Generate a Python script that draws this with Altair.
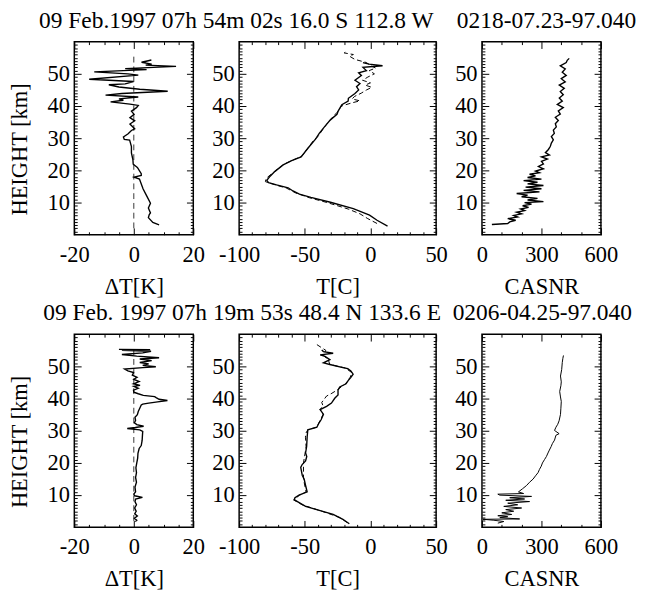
import altair as alt
import pandas as pd

FONT = "Liberation Serif"
FS = 23
FS_TITLE = 24
NBSP = "\u00a0"

TITLE_TOP = "09 Feb.1997 07h 54m 02s 16.0 S 112.8 W" + NBSP * 4 + "0218-07.23-97.040"
TITLE_BOT = "09 Feb. 1997 07h 19m 53s 48.4 N 133.6 E" + NBSP * 2 + "0206-04.25-97.040"

X_TITLES = ["\u0394T[K]", "T[C]", "CASNR"]
Y_TITLE = "HEIGHT [km]"

# ---------------- top row ----------------
DT1_H = [3.1, 3.8, 5.3, 6.3, 6.8, 8.3, 9.8, 12.3, 14.3, 17.3, 17.9, 18.4, 19.0, 20.9, 21.9,
         23.3, 25.4, 27.4, 29.4, 29.6, 30.4, 31.4, 32.4, 32.9, 34.4, 35.4, 36.4, 37.4, 38.4,
         39.5, 40.2, 40.6, 41.3, 41.8, 42.2, 42.8, 43.4, 43.9, 44.6, 45.2, 45.9, 46.6, 46.9,
         47.6, 48.3, 49.6, 50.0, 50.6, 51.3, 51.6, 52.3, 52.7, 53.0, 53.6, 54.0, 54.3]
DT1_V = [8.5, 6.4, 4.9, 5.2, 5.6, 4.9, 5.6, 4.2, 3.1, 1.9, 0.1, 2.5, 2.5, 1.2, -0.2,
         -0.3, -0.8, -0.8, -1.4, -3.2, -3.5, -1.9, -0.8, 0.3, -1.3, 0.3, -1.3, 0.1, -0.8,
         0.9, 1.5, -1.3, -7.8, -3.5, -5.0, 1.5, -9.5, -4.0, 11.4, 2.0, -5.0, -8.4, -2.9,
         -0.1, -15.0, 1.5, -2.0, -13.3, 4.3, -2.9, 14.2, 4.0, 6.0, 2.6, 4.5, 5.9]

T1_H = [2.7, 4.5, 6.1, 8.1, 10.1, 11.6, 12.6, 13.6, 14.6, 15.5, 16.2, 16.9, 18.2, 19.7, 21.7,
        23.0, 24.2, 26.8, 29.8, 31.5, 33.3, 35.7, 37.4, 38.5, 40.4, 41.5, 42.4, 43.9, 45.0,
        46.0, 47.0, 48.0, 49.5, 50.3, 51.0, 52.0, 52.5, 53.0, 53.5]
T1_V = [13.0, 5.0, -0.7, -13.1, -30.5, -45.4, -54.1, -59.0, -62.7, -71.5, -77.6, -78.9, -76.4,
        -72.7, -66.5, -60.0, -52.8, -47.8, -41.7, -39.0, -35.5, -30.5, -25.5, -24.5, -21.8,
        -17.0, -16.8, -11.8, -9.0, -10.6, -8.0, -11.8, -6.9, -9.0, -3.1, -5.7, 9.2, -1.0, -5.7]

T1D_H = [3.5, 5.0, 6.5, 8.0, 10.0, 11.5, 13.0, 14.5, 15.5, 16.5, 17.5, 19.0, 20.0, 22.0, 24.5,
         27.0, 29.5, 30.5, 33.5, 36.0, 38.0, 40.0, 41.0, 41.6, 42.2, 43.0, 44.0, 45.0, 45.8,
         46.5, 47.2, 48.0, 49.0, 50.0, 51.0, 51.8, 52.5, 53.5, 54.5, 55.5, 56.0, 56.5, 57.0]
T1D_V = [5.0, -2.0, -8.0, -17.0, -33.0, -46.5, -57.0, -64.0, -72.5, -80.0, -79.5, -75.0, -72.0,
         -65.5, -52.0, -47.5, -43.0, -40.0, -35.0, -30.0, -25.5, -22.0, -14.0, -8.0, -14.0,
         -12.0, -7.0, -3.0, 1.0, -4.0, 0.0, -6.0, -2.0, 3.0, -1.0, 4.0, 0.0, -3.0, -12.0,
         -16.0, -13.0, -20.0, -18.0]

SNR1_H = [3.2, 3.5, 4.0, 4.5, 5.0, 5.5, 6.0, 6.5, 7.0, 7.5, 8.0, 8.5, 9.0, 9.5, 10.0, 10.3,
          10.8, 11.3, 11.8, 12.3, 12.8, 13.3, 13.8, 14.3, 14.8, 15.3, 15.8, 16.3, 16.8, 17.3,
          17.8, 18.3, 18.8, 19.3, 19.8, 20.5, 21.2, 22.0, 22.8, 23.5, 24.2, 24.8, 25.5, 26.5,
          27.5, 28.5, 29.5, 30.5, 31.5, 32.5, 33.5, 34.5, 35.5, 36.5, 37.5, 38.5, 39.5, 40.5,
          41.5, 42.5, 43.5, 44.5, 45.5, 46.5, 47.5, 48.5, 49.5, 50.5, 51.5, 52.5, 53.5, 54.2,
          54.8]
SNR1_V = [50, 130, 140, 170, 130, 180, 160, 200, 175, 215, 195, 235, 205, 250, 215, 310,
          230, 280, 200, 230, 175, 290, 210, 300, 220, 310, 230, 280, 210, 300,
          230, 270, 240, 290, 270, 310, 285, 310, 300, 330, 300, 340, 320, 335,
          345, 350, 360, 350, 365, 360, 375, 370, 385, 370, 395, 385, 410, 380,
          405, 390, 410, 395, 415, 390, 420, 400, 425, 405, 420, 395, 425, 430, 440]

# ---------------- bottom row ----------------
DT2_H = [1.8, 2.2, 2.8, 3.5, 4.2, 5.0, 6.0, 7.0, 8.0, 8.8, 9.3, 9.8, 10.3, 11.0, 12.5, 14.0,
         15.5, 17.0, 18.5, 20.0, 21.5, 23.0, 24.5, 25.4, 27.0, 28.5, 29.8, 30.3, 30.7, 31.0,
         31.4, 31.9, 32.5, 33.2, 34.2, 35.0, 36.0, 37.0, 38.0, 38.3, 38.6, 39.0, 39.4, 39.8,
         40.3, 40.6, 41.0, 41.5, 42.0, 42.6, 43.2, 43.8, 44.1, 44.6, 45.3, 46.0, 46.6, 47.3,
         48.1, 48.6, 49.2, 49.6, 49.9, 50.3, 50.8, 51.2, 51.8, 52.3, 52.7, 53.2, 53.7, 54.2,
         54.7, 55.0, 55.2, 55.3]
DT2_V = [0.5, 1.0, 0.2, 1.2, 0.3, 0.8, 0.3, 0.9, 0.4, 0.6, 2.9, 0.3, 0.0, 0.6, 0.4, 0.9,
         0.6, 0.9, 0.7, 1.0, 1.3, 1.4, 1.8, 2.5, 2.8, 2.9, 3.0, 2.0, -2.2, 0.5,
         3.3, 1.0, 0.2, 0.6, 0.4, 1.2, 1.5, 2.0, 2.5, 3.0, 5.0, 8.0, 11.3, 8.5,
         7.5, 7.0, 3.2, 1.5, 0.0, -0.1, 1.5, 0.0, 2.1, -0.1, 1.8, 0.0, 1.1, -0.5,
         -0.1, -2.0, -3.1, 3.0, 7.4, 3.0, 5.0, 2.0, 6.0, 2.0, 8.5, 1.0, -4.0, 3.0,
         5.8, -4.0, 5.5, -5.0]

T2_H = [1.1, 2.5, 4.0, 5.2, 6.5, 8.0, 8.6, 9.2, 10.0, 11.0, 13.0, 15.0, 16.1, 18.6, 19.5,
        20.6, 22.0, 23.1, 25.1, 28.1, 30.3, 31.1, 32.1, 33.5, 35.1, 36.6, 37.6, 38.6, 40.1,
        41.1, 42.6, 43.6, 44.6, 45.6, 46.6, 47.6, 48.6, 49.3, 49.6, 50.6, 51.1, 52.1, 53.1,
        53.6, 54.1, 54.6, 55.1]
T2_V = [-16.1, -21.0, -28.4, -38.3, -49.4, -55.6, -58.0, -57.5, -54.4, -48.2, -49.4, -50.5,
        -51.9, -53.1, -52.0, -49.4, -48.5, -49.4, -48.6, -48.2, -47.7, -40.8, -39.6, -37.5,
        -35.8, -38.3, -33.4, -29.7, -27.2, -24.7, -24.7, -23.4, -18.6, -17.0, -14.9, -13.2,
        -14.9, -17.3, -21.0, -30.9, -35.8, -30.9, -34.6, -38.3, -28.4, -35.8, -37.1]

T2D_H = [1.5, 3.0, 5.0, 7.0, 8.5, 10.0, 11.0, 15.0, 20.0, 25.0, 28.0, 29.1, 30.3, 31.1, 33.5,
         35.1, 36.6, 37.6, 38.8, 40.8, 41.5, 42.5, 44.6, 46.6, 48.0, 49.5, 50.6, 52.0, 53.5,
         55.0, 56.1, 57.1]
T2D_V = [-18.0, -23.0, -37.0, -52.0, -58.5, -54.0, -49.0, -51.0, -51.0, -49.0, -49.5, -49.4,
         -47.7, -41.0, -38.0, -36.0, -38.5, -36.0, -37.1, -33.4, -30.0, -26.0, -19.0, -15.5,
         -14.0, -19.0, -31.0, -32.0, -36.0, -34.0, -38.3, -42.0]

SNR2_H = [1.3, 1.8, 2.2, 2.5, 2.6, 3.0, 3.3, 3.6, 4.0, 4.5, 5.0, 5.5, 6.0, 6.5, 7.0, 7.5, 8.0,
          8.4, 8.8, 9.2, 9.6, 10.0, 10.3, 10.5, 11.0, 12.0, 13.0, 14.0, 15.0, 16.0, 17.0,
          18.0, 19.0, 20.0, 21.1, 22.0, 23.1, 24.0, 25.1, 26.0, 27.1, 28.6, 29.1, 30.1, 31.1,
          32.0, 33.1, 35.1, 37.0, 39.1, 40.5, 42.2, 44.0, 45.2, 47.0, 49.0, 51.2, 52.5, 53.4]
SNR2_V = [80, 110, 60, 5, 190, 90, 130, 80, 150, 100, 160, 120, 200, 110, 180, 130, 240,
          120, 215, 140, 250, 90, 80, 210, 184, 205, 225, 240, 258, 270, 283,
          290, 299, 305, 316, 325, 333, 340, 349, 355, 366, 373, 389, 366, 373,
          382, 389, 396, 398, 400, 396, 392, 398, 400, 396, 402, 405, 408, 411]

ZERO_V = [0]
ZERO_H1 = [2.0]
ZERO_H2 = [56.0]

X_DOMAINS = [[-20, 20], [-100, 50], [0, 600]]
X_MAJOR = [[-20, 0, 20], [-100, -50, 0, 50], [0, 300, 600]]
X_MINOR = [[-15, -10, -5, 5, 10, 15],
           [-90, -80, -70, -60, -40, -30, -20, -10, 10, 20, 30, 40],
           [100, 200, 400, 500]]
Y_MAJOR = [10, 20, 30, 40, 50]
Y_MINOR = [i for i in range(1, 60) if i % 10 != 0]

WIDTHS = [122, 202, 122]
HEIGHT = 198
MAJ = 7
MIN = 3


def frame(h, v):
    return pd.DataFrame({"h": h, "v": v})


def axis(orient, values, size, labels=False, title=None, **extra):
    kw = dict(orient=orient, values=values, tickSize=size, offset=-size, labels=labels,
              domain=False, grid=False, ticks=True, tickColor="black", tickWidth=1,
              minExtent=0)
    if title is not None:
        kw.update(title=title, titleFont=FONT, titleFontSize=FS, titleFontWeight="normal",
                  titleColor="black")
    else:
        kw.update(title=None)
    if labels:
        kw.update(labelFont=FONT, labelFontSize=FS, labelColor="black",
                  labelExpr="toString(datum.value)", labelFlush=False, labelOverlap=False,
                  labelBound=False)
    kw.update(extra)
    return alt.Axis(**kw)


def panel(col, lines, ytitle, title=None, zero=False, thin=False):
    xs = alt.Scale(domain=X_DOMAINS[col], nice=False, zero=False)
    ys = alt.Scale(domain=[0, 60], nice=False, zero=False)
    base = lines[0]
    sw = 1.0 if thin else 1.4

    def lay(data, xa, ya, **mk):
        return alt.Chart(data).mark_line(**mk).encode(
            x=alt.X("v:Q", scale=xs, axis=xa),
            y=alt.Y("h:Q", scale=ys, axis=ya),
            order=alt.Order("h:Q"),
        )

    y_extra = dict(titlePadding=16, titleY=110) if ytitle else {}
    layers = [
        lay(base,
            axis("bottom", X_MAJOR[col], MAJ, labels=True, title=X_TITLES[col],
                 labelPadding=9, titlePadding=10),
            axis("left", Y_MAJOR, MAJ, labels=True, title=Y_TITLE if ytitle else None,
                 labelPadding=5, **y_extra),
            color="black", strokeWidth=sw),
        lay(base, axis("bottom", X_MINOR[col], MIN), axis("left", Y_MINOR, MIN),
            strokeOpacity=0),
        lay(base, axis("top", X_MAJOR[col], MAJ), axis("right", Y_MAJOR, MAJ),
            strokeOpacity=0),
        lay(base, axis("top", X_MINOR[col], MIN), axis("right", Y_MINOR, MIN),
            strokeOpacity=0),
    ]
    for extra in lines[1:]:
        layers.append(lay(extra, None, None, color="black", strokeWidth=1.0,
                          strokeDash=[5, 3]))
    if zero:
        zdf = pd.DataFrame({"v": ZERO_V, "h": ZERO_H1, "h2": ZERO_H2})
        layers.append(alt.Chart(zdf).mark_rule(color="black", strokeWidth=0.8,
                                               strokeDash=[6, 4]).encode(
            x=alt.X("v:Q", scale=xs, axis=None),
            y=alt.Y("h:Q", scale=ys, axis=None),
            y2="h2:Q"))
    ch = alt.layer(*layers).resolve_axis(x="independent", y="independent")
    props = dict(width=WIDTHS[col], height=HEIGHT)
    if title is not None:
        props["title"] = alt.TitleParams(text=title, font=FONT, fontSize=FS_TITLE,
                                         fontWeight="normal", color="black",
                                         baseline="alphabetic", offset=-10)
    return ch.properties(**props)


p1 = panel(0, [frame(DT1_H, DT1_V)], True, zero=True)
p2 = panel(1, [frame(T1_H, T1_V), frame(T1D_H, T1D_V)], False, title=TITLE_TOP)
p3 = panel(2, [frame(SNR1_H, SNR1_V)], False)
p4 = panel(0, [frame(DT2_H, DT2_V)], True, zero=True)
p5 = panel(1, [frame(T2_H, T2_V), frame(T2D_H, T2D_V)], False, title=TITLE_BOT)
p6 = panel(2, [frame(SNR2_H, SNR2_V)], False, thin=True)

chart = alt.concat(p1, p2, p3, p4, p5, p6, columns=3,
                   spacing={"row": 102, "column": 47}, bounds="flush").properties(
    padding={"left": 0, "top": -8, "right": 0, "bottom": 0},
    background="white",
).configure_view(stroke="black", strokeWidth=1.5)

chart.save("out.html", embed_options={"renderer": "svg", "actions": False})
